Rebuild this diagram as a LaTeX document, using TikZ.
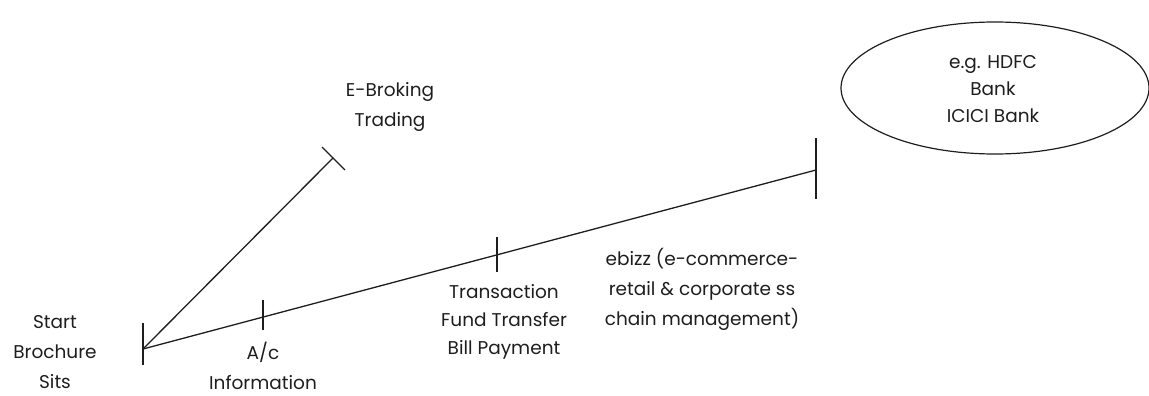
\documentclass[tikz,border=0pt]{standalone}
\usepackage{fontspec}
\setmainfont{Poppins}
\usetikzlibrary{positioning,calc,shapes.geometric}
\definecolor{inkgray}{RGB}{30,30,30}

\tikzset{
  lbl/.style={align=center,text=inkgray,inner sep=0pt,font=\fontsize{18.5}{30}\selectfont},
  stage/.style={line width=1.3pt,inkgray}
}

\begin{document}
\begin{tikzpicture}[x=1pt,y=-1pt]
  \useasboundingbox (0,0) rectangle (1149,396);
  % axis points
  \coordinate (o) at (143,349);
  \coordinate (broke) at (333,158);
  \coordinate (ebiz) at (816,170);
  \coordinate (acct) at (263,317);
  \coordinate (trans) at (497,255);
  \draw[stage] (o) -- (broke);
  \draw[stage] (o) -- (ebiz);
  % tick marks
  \draw[stage] ($(o)+(0,-26)$) -- ($(o)+(0,16)$);
  \draw[stage] ($(acct)+(0,-17)$) -- ($(acct)+(0,13)$);
  \draw[stage] ($(trans)+(0,-18)$) -- ($(trans)+(0,17)$);
  \draw[stage] ($(ebiz)+(0,-32)$) -- ($(ebiz)+(0,29)$);
  \draw[stage] ($(broke)+(-11,-11)$) -- ($(broke)+(12,12)$);
  % labels
  \node[lbl] (start) at (55,352) {Start\\Brochure\\Sits};
  \node[lbl] (info) at (263,366) {A/c\\Information};
  \node[lbl] (ebrok) at (390,107) {E-Broking\\Trading};
  \node[lbl,font=\fontsize{18.5}{28}\selectfont] (fund) at (504,322) {Transaction\\Fund Transfer\\Bill Payment};
  \node[lbl] (shop) at (702,289) {ebizz (e-commerce-\\retail \& corporate ss\\chain management)};
  \node[draw=inkgray,line width=1.2pt,ellipse,minimum width=308pt,minimum height=132pt] (bank) at (995,88) {};
  \node[lbl,font=\fontsize{18.5}{27}\selectfont] (banks) at (993,89) {e.g. HDFC\\Bank\\ICICI Bank};
\end{tikzpicture}
\end{document}
